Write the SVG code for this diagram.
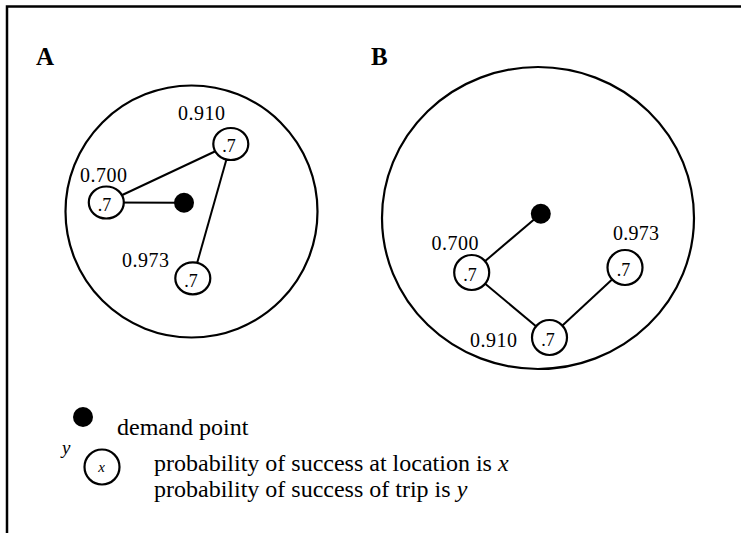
<svg xmlns="http://www.w3.org/2000/svg" width="741" height="533" viewBox="0 0 741 533">
<style>
text{font-family:"Liberation Serif","Times New Roman",serif;fill:#000}
.title{font-size:25px;font-weight:bold}
.lbl{font-size:20px}
.in{font-size:18px;text-anchor:middle}
.leg{font-size:24px}
.it{font-style:italic}
.region{fill:none;stroke:#000;stroke-width:2.2}
.node{fill:#fff;stroke:#000;stroke-width:2.2}
.dot{fill:#000}
.edge{stroke:#000;stroke-width:2;fill:none}
</style>
<rect x="0" y="0" width="741" height="533" fill="#fff"/>
<path d="M7,533 V6.5 H741" fill="none" stroke="#000" stroke-width="2.5"/>

<text class="title" x="36" y="65">A</text>
<text class="title" x="371" y="65">B</text>

<circle class="region" cx="191.5" cy="211.5" r="126"/>
<ellipse class="region" cx="538" cy="218" rx="156" ry="151"/>

<g id="connectors">
<line class="edge" x1="106.3" y1="202.5" x2="184" y2="202.7"/>
<line class="edge" x1="106.3" y1="202.5" x2="230.8" y2="144"/>
<line class="edge" x1="230.8" y1="144" x2="192.8" y2="278.3"/>
<line class="edge" x1="540.8" y1="213.7" x2="471.7" y2="272.5"/>
<line class="edge" x1="471.7" y1="272.5" x2="549.5" y2="337.5"/>
<line class="edge" x1="549.5" y1="337.5" x2="625" y2="267.5"/>
</g>

<g id="A-demand"><circle class="dot" cx="184" cy="202.7" r="10"/></g>
<g id="A-n1">
<ellipse class="node" cx="106.3" cy="202.5" rx="17.5" ry="16"/>
<text class="in" x="104.5" y="210.5">.7</text>
<text class="lbl" x="80" y="181.5" textLength="47">0.700</text>
</g>
<g id="A-n2">
<ellipse class="node" cx="230.8" cy="144" rx="17.5" ry="16"/>
<text class="in" x="229" y="152">.7</text>
<text class="lbl" x="178" y="120" textLength="47">0.910</text>
</g>
<g id="A-n3">
<ellipse class="node" cx="192.8" cy="278.3" rx="17.5" ry="16"/>
<text class="in" x="191" y="286.5">.7</text>
<text class="lbl" x="122" y="266.5" textLength="47">0.973</text>
</g>

<g id="B-demand"><circle class="dot" cx="540.8" cy="213.7" r="10"/></g>
<g id="B-n1">
<circle class="node" cx="471.7" cy="272.5" r="17.5"/>
<text class="in" x="470" y="280.5">.7</text>
<text class="lbl" x="431.5" y="250" textLength="47">0.700</text>
</g>
<g id="B-n2">
<circle class="node" cx="549.5" cy="337.5" r="17.5"/>
<text class="in" x="548" y="345.5">.7</text>
<text class="lbl" x="470" y="346.5" textLength="47">0.910</text>
</g>
<g id="B-n3">
<circle class="node" cx="625" cy="267.5" r="17.5"/>
<text class="in" x="623.5" y="275.5">.7</text>
<text class="lbl" x="613" y="240" textLength="46">0.973</text>
</g>

<g id="legend">
<circle class="dot" cx="83" cy="417" r="10"/>
<text class="leg" x="117" y="435">demand point</text>
<text class="it" x="62" y="454" font-size="19">y</text>
<circle class="node" cx="102" cy="467" r="17.5"/>
<text class="it" x="101.5" y="472" font-size="15" text-anchor="middle">x</text>
<text class="leg" x="154" y="471">probability of success at location is <tspan class="it">x</tspan></text>
<text class="leg" x="154" y="497">probability of success of trip is <tspan class="it">y</tspan></text>
</g>
</svg>
